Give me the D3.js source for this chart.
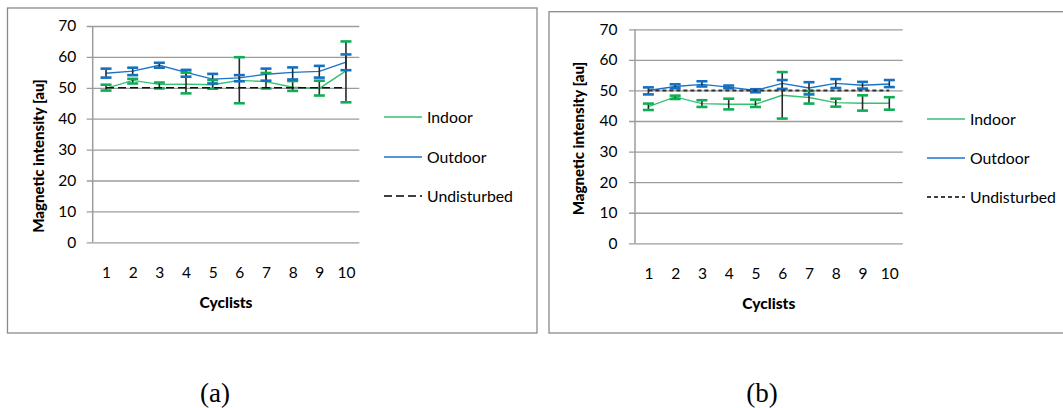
<!DOCTYPE html>
<html>
<head>
<meta charset="utf-8">
<script src="https://cdn.jsdelivr.net/npm/d3@7"></script>
<style>
  html, body { margin: 0; padding: 0; background: #fff; }
  svg { display: block; }
  text { font-family: Lato, "Open Sans", sans-serif; fill: #000; }
</style>
</head>
<body>
<svg id="chart" width="1063" height="408"></svg>
<script>
// Cyclist indices on the x axis
const cyclists = ["1", "2", "3", "4", "5", "6", "7", "8", "9", "10"];
const yTicks = [0, 10, 20, 30, 40, 50, 60, 70];

// (a) mean magnetic intensity and min/max range per cyclist
const indoorA     = [49.8, 52.4, 51.1, 51.2, 51.0, 52.4, 52.0, 50.2, 49.8, 55.5];
const indoorLowA  = [49.1, 51.4, 49.8, 48.2, 49.7, 45.0, 49.8, 49.0, 47.5, 45.3];
const indoorHighA = [51.0, 52.9, 51.7, 54.9, 52.5, 59.9, 54.8, 52.2, 52.3, 65.0];
const outdoorA     = [54.7, 55.4, 57.3, 55.0, 52.8, 53.2, 54.4, 55.0, 55.3, 58.3];
const outdoorLowA  = [53.3, 54.1, 56.5, 53.6, 51.4, 52.1, 52.3, 52.7, 53.3, 55.7];
const outdoorHighA = [56.2, 56.5, 58.1, 55.8, 54.5, 54.1, 56.2, 56.6, 57.1, 60.8];

// (b)
const indoorB     = [44.7, 47.9, 45.7, 45.5, 45.5, 48.4, 47.7, 46.0, 45.8, 45.8];
const indoorLowB  = [43.6, 47.2, 44.6, 43.8, 44.6, 40.8, 45.7, 44.7, 43.4, 43.7];
const indoorHighB = [45.7, 48.3, 46.8, 47.3, 47.0, 56.0, 49.8, 47.3, 48.4, 47.8];
const outdoorB     = [50.0, 51.3, 52.0, 51.1, 50.0, 52.3, 50.8, 52.3, 51.7, 52.1];
const outdoorLowB  = [48.7, 50.7, 51.3, 50.7, 49.4, 50.5, 48.7, 50.8, 50.6, 51.1];
const outdoorHighB = [51.0, 52.0, 53.0, 51.6, 50.4, 53.4, 52.7, 53.7, 52.8, 53.4];

// Undisturbed reference level
const undisturbed = [50, 50, 50, 50, 50, 50, 50, 50, 50, 50];

const seriesNames = ["Indoor", "Outdoor", "Undisturbed"];

const COLORS = {
  indoorLine: "#33c26f", indoorCap: "#0fae55",
  outdoorLine: "#1a74c9", outdoorCap: "#1470c2",
  grid: "#9c9c9c", frame: "#8a8a8a", whisker: "#2a2a2a"
};

const svg = d3.select("#chart");
svg.append("rect").attr("width", 1063).attr("height", 408).attr("fill", "#fff");

function drawPanel(cfg) {
  const g = svg.append("g");

  // outer frame
  g.append("rect")
    .attr("x", cfg.frame[0]).attr("y", cfg.frame[1])
    .attr("width", cfg.frame[2]).attr("height", cfg.frame[3])
    .attr("fill", "none").attr("stroke", COLORS.frame).attr("stroke-width", 1.3);

  const x = d3.scalePoint().domain(cyclists).range([cfg.left, cfg.right]).padding(0.5);
  const y = d3.scaleLinear().domain([0, 70]).range([cfg.bottom, cfg.top]);
  const plotW = cfg.right - cfg.left;

  // horizontal gridlines + y tick labels
  const yAxis = d3.axisLeft(y).tickValues(yTicks).tickSize(-(plotW + 6)).tickPadding(cfg.yPad);
  const ga = g.append("g").attr("transform", `translate(${cfg.left - 6},0)`).call(yAxis);
  ga.select(".domain").remove();
  ga.selectAll(".tick line").attr("stroke", COLORS.grid).attr("stroke-width", 1.3);
  ga.selectAll(".tick text").style("font-family", "Lato, sans-serif").style("font-size", "15.5px").attr("fill", "#000");

  // vertical y axis line
  g.append("line")
    .attr("x1", cfg.left).attr("x2", cfg.left)
    .attr("y1", y(70)).attr("y2", y(0))
    .attr("stroke", COLORS.grid).attr("stroke-width", 1.5);

  // category labels
  const xAxis = d3.axisBottom(x).tickSize(0).tickPadding(cfg.xPad);
  const gx = g.append("g").attr("transform", `translate(0,${y(0)})`).call(xAxis);
  gx.select(".domain").remove();
  gx.selectAll(".tick text").style("font-family", "Lato, sans-serif").style("font-size", "15.5px").attr("fill", "#000");

  // axis titles
  g.append("text")
    .attr("transform", `translate(${cfg.yTitle[0]},${cfg.yTitle[1]}) rotate(-90)`)
    .attr("text-anchor", "middle").attr("dy", "0.35em")
    .style("font-size", "15px").style("font-weight", "900")
    .text("Magnetic intensity [au]");
  g.append("text")
    .attr("x", (cfg.left + cfg.right) / 2).attr("y", cfg.xTitleY)
    .attr("text-anchor", "middle")
    .style("font-size", "15.5px").style("font-weight", "900")
    .text("Cyclists");

  const line = d3.line().x((d, i) => x(cyclists[i])).y(d => y(d));

  // series lines
  g.append("path").datum(cfg.indoor).attr("d", line)
    .attr("fill", "none").attr("stroke", COLORS.indoorLine).attr("stroke-width", 1.4);
  g.append("path").datum(cfg.outdoor).attr("d", line)
    .attr("fill", "none").attr("stroke", COLORS.outdoorLine).attr("stroke-width", 1.4);

  // error bars: dark whisker with coloured caps
  const bars = [
    { low: cfg.indoorLow, high: cfg.indoorHigh, cap: COLORS.indoorCap },
    { low: cfg.outdoorLow, high: cfg.outdoorHigh, cap: COLORS.outdoorCap }
  ];
  bars.forEach(b => {
    g.append("g").selectAll("line").data(cyclists).join("line")
      .attr("x1", c => x(c)).attr("x2", c => x(c))
      .attr("y1", (c, i) => y(b.low[i])).attr("y2", (c, i) => y(b.high[i]))
      .attr("stroke", COLORS.whisker).attr("stroke-width", 1.6);
  });
  bars.forEach(b => {
    const caps = g.append("g");
    [b.low, b.high].forEach(arr => {
      caps.selectAll(null).data(cyclists).join("line")
        .attr("x1", c => x(c) - 5.5).attr("x2", c => x(c) + 5.5)
        .attr("y1", (c, i) => y(arr[i])).attr("y2", (c, i) => y(arr[i]))
        .attr("stroke", b.cap).attr("stroke-width", 2.6);
    });
  });

  // undisturbed reference
  g.append("path").datum(undisturbed).attr("d", line)
    .attr("fill", "none").attr("stroke", cfg.dashColor).attr("stroke-width", cfg.dashWidth)
    .attr("stroke-dasharray", cfg.dash);

  // legend
  const legend = [
    { name: seriesNames[0], color: COLORS.indoorLine, dash: null, w: 1.6 },
    { name: seriesNames[1], color: COLORS.outdoorLine, dash: null, w: 1.6 },
    { name: seriesNames[2], color: "#000", dash: cfg.legendDash, w: 1.3 }
  ];
  legend.forEach((l, i) => {
    const ly = cfg.legendY[i];
    g.append("line")
      .attr("x1", cfg.legendX).attr("x2", cfg.legendX + 38)
      .attr("y1", ly).attr("y2", ly)
      .attr("stroke", l.color).attr("stroke-width", l.w)
      .attr("stroke-dasharray", l.dash);
    g.append("text")
      .attr("x", cfg.legendX + 43).attr("y", ly).attr("dy", "0.36em")
      .style("font-size", "15.8px").text(l.name);
  });
}

drawPanel({
  frame: [7.5, 8, 529.5, 325],
  left: 92.7, right: 359.3, top: 26, bottom: 242.3,
  yPad: 10.5, xPad: 25,
  yTitle: [38.5, 156], xTitleY: 308,
  indoor: indoorA, indoorLow: indoorLowA, indoorHigh: indoorHighA,
  outdoor: outdoorA, outdoorLow: outdoorLowA, outdoorHigh: outdoorHighA,
  dash: "8,4", dashColor: "#111", dashWidth: 1.4, legendDash: "8,4",
  legendX: 384, legendY: [117, 157, 196]
});

drawPanel({
  frame: [549, 11.7, 520, 321.3],
  left: 635, right: 902.7, top: 29.3, bottom: 243.3,
  yPad: 11.5, xPad: 25,
  yTitle: [579, 138.5], xTitleY: 309,
  indoor: indoorB, indoorLow: indoorLowB, indoorHigh: indoorHighB,
  outdoor: outdoorB, outdoorLow: outdoorLowB, outdoorHigh: outdoorHighB,
  dash: "4,3", dashColor: "#333", dashWidth: 2, legendDash: "4,3",
  legendX: 927, legendY: [119, 158, 197]
});

// panel captions
svg.append("text").attr("x", 215).attr("y", 401.5).attr("text-anchor", "middle")
  .style("font-family", "'Liberation Serif', 'Times New Roman', serif").style("font-size", "27px").text("(a)");
svg.append("text").attr("x", 762).attr("y", 401.5).attr("text-anchor", "middle")
  .style("font-family", "'Liberation Serif', 'Times New Roman', serif").style("font-size", "27px").text("(b)");
</script>
</body>
</html>
